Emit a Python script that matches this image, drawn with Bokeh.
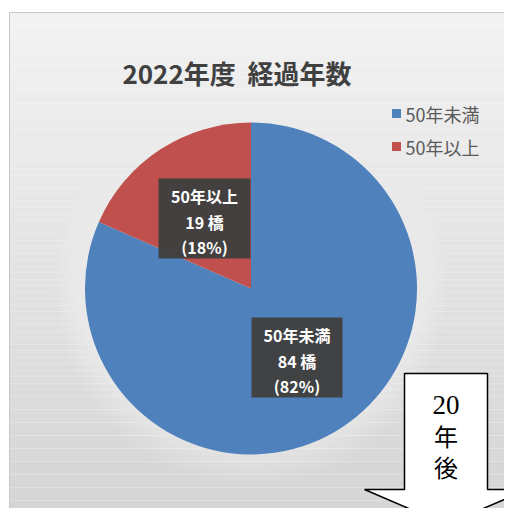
import numpy as np
from bokeh.plotting import figure
from bokeh.models import Range1d, ColumnDataSource
from bokeh.core.properties import value
from bokeh.embed import file_html
from bokeh.resources import INLINE

# ---- data ----
categories = ["50年未満", "50年以上"]
counts = [84, 19]
colors = ["#4f81bd", "#c0504d"]
title_text = "2022年度\u00a0\u00a0経過年数"
arrow_lines = ["20", "年", "後"]

W, H = 504, 508
FONT = "Noto Sans CJK JP"

p = figure(width=W, height=H, output_backend="svg", toolbar_location=None,
           x_range=Range1d(0, W), y_range=Range1d(0, H), min_border=0)
p.axis.visible = False
p.grid.visible = False
p.outline_line_color = None
p.background_fill_color = "white"
p.border_fill_color = "white"


def Y(y):
    # picture pixel row -> data y
    return H - y


# ---- panel background gradient ----
edges = np.linspace(12, 526, 80)
step = edges[1] - edges[0]
top_c = np.array([0xf2, 0xf2, 0xf2])
bot_c = np.array([0xd4, 0xd4, 0xd4])
cols = []
for i in range(len(edges) - 1):
    t = i / (len(edges) - 2)
    c = (top_c * (1 - t) + bot_c * t).round().astype(int)
    cols.append("#%02x%02x%02x" % tuple(c))
p.quad(left=9, right=515, top=[Y(e) for e in edges[:-1]], bottom=[Y(e) - step for e in edges[:-1]],
       fill_color=cols, line_color=None)
p.quad(left=9, right=515, top=Y(12), bottom=Y(530), fill_color=None, line_color="#c8c8c8", line_width=1)

# soft glow around pie
cx, cy, r = 250.5, 288, 166
for k in range(30, 0, -3):
    p.circle(x=cx, y=Y(cy), radius=r + k, fill_color="white", fill_alpha=0.045, line_color=None)

# ---- pie ----
total = sum(counts)
fracs = np.array(counts) / total
ends = np.cumsum(fracs)
starts = ends - fracs
src = ColumnDataSource(dict(
    start=np.pi / 2 - 2 * np.pi * starts,
    end=np.pi / 2 - 2 * np.pi * ends,
    color=colors,
))
p.wedge(x=cx, y=Y(cy), radius=r, start_angle="start", end_angle="end",
        direction="clock", fill_color="color", line_color=None, source=src)

# ---- title ----
p.text(x=[236.5], y=[Y(72)], text=[title_text], text_align="center", text_baseline="middle",
       text_font=value(FONT), text_font_style="bold", text_font_size="26px", text_color="#404040")

# ---- legend ----
leg_y = [113, 146]
p.scatter(x=[396] * 2, y=[Y(v) for v in leg_y], marker="square", size=9,
          fill_color=colors, line_color=None)
p.text(x=[405] * 2, y=[Y(v) for v in leg_y], text=categories, text_align="left", text_baseline="middle",
       text_font=value(FONT), text_font_size="18px", text_color="#595959")

# ---- data labels ----
label_boxes = [(296.5, 357, 91, 80), (204, 218, 92, 80)]  # per category
for (bx, by, bw, bh), name, cnt, fr in zip(label_boxes, categories, counts, fracs):
    p.rect(x=bx, y=Y(by), width=bw, height=bh, fill_color="#404040", fill_alpha=0.97, line_color=None)
    lines = [name, f"{cnt} 橋", f"({round(fr * 100)}%)"]
    p.text(x=[bx] * 3, y=[Y(by - 23), Y(by + 3), Y(by + 28)], text=lines,
           text_align="center", text_baseline="middle", text_font=value(FONT),
           text_font_style="bold", text_font_size="16px", text_color="white")

# ---- arrow ----
ax = [404, 487, 487, 527, 445.5, 364, 404]
ay = [373, 373, 489, 489, 524, 489, 489]
p.patch(x=ax, y=[Y(v) for v in ay], fill_color="white", line_color="black", line_width=1.5)
p.text(x=[445.5], y=[Y(404)], text=arrow_lines[:1], text_align="center",
       text_baseline="middle", text_font=value("Liberation Serif"),
       text_font_size="27px", text_color="black")
p.text(x=[445.5] * 2, y=[Y(435), Y(466)], text=arrow_lines[1:], text_align="center",
       text_baseline="middle", text_font=value(FONT),
       text_font_size="24px", text_color="black")

open("out.html", "w").write(file_html(p, INLINE))
